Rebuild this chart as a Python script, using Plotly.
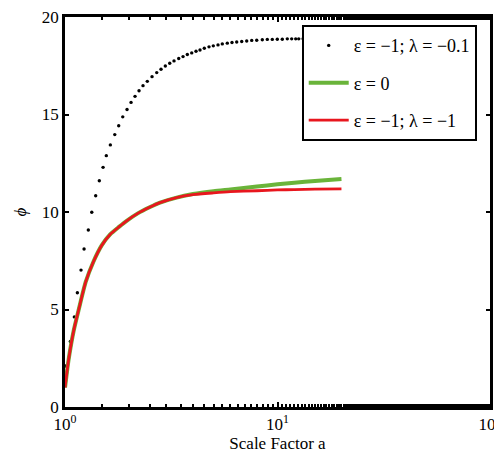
import plotly.graph_objects as go

# Dotted series: epsilon = -1, lambda = -0.1
a_dots = [1.01, 1.059, 1.106, 1.143, 1.189, 1.229, 1.287, 1.336, 1.394, 1.450,
          1.510, 1.564, 1.634, 1.714, 1.789, 1.869, 1.958, 2.045, 2.135, 2.230,
          2.328, 2.439, 2.567, 2.701, 2.830, 2.965, 3.110, 3.258, 3.428, 3.592,
          3.763, 3.947, 4.135, 4.318, 4.524, 4.760, 4.987, 5.248, 5.498, 5.804,
          6.107, 6.427, 6.785, 7.163, 7.562, 7.984, 8.482, 8.954, 9.453, 9.978,
          10.534, 11.120, 11.663, 12.180, 12.589, 13.2, 14.0, 15.0, 16.0, 17.0,
          18.0, 19.0, 20.0]
phi_dots = [2.10, 3.36, 4.62, 5.86, 7.02, 8.10, 9.08, 9.99, 10.83, 11.60,
            12.29, 12.89, 13.44, 13.97, 14.42, 14.88, 15.26, 15.62, 15.93, 16.22,
            16.48, 16.70, 16.94, 17.15, 17.32, 17.49, 17.63, 17.75, 17.87, 17.97,
            18.08, 18.16, 18.24, 18.31, 18.40, 18.47, 18.52, 18.57, 18.62, 18.66,
            18.69, 18.72, 18.74, 18.77, 18.80, 18.81, 18.83, 18.85, 18.85, 18.86,
            18.86, 18.88, 18.88, 18.88, 18.88, 18.89, 18.89, 18.90, 18.90, 18.90,
            18.90, 18.90, 18.90]

# Line series
a_lines = [1.0, 1.04, 1.1, 1.16, 1.25, 1.36, 1.49, 1.63, 1.8, 1.95, 2.2, 2.5,
           2.8, 3.35, 4.0, 5.0, 6.0, 8.0, 10.0, 12.0, 15.0, 20.0]
phi_eps0 = [1.0, 2.45, 3.95, 5.0, 6.4, 7.45, 8.3, 8.85, 9.25, 9.55, 9.93, 10.24,
            10.48, 10.74, 10.92, 11.07, 11.16, 11.31, 11.42, 11.50, 11.59, 11.69]
phi_eps1 = [1.0, 2.45, 3.95, 5.0, 6.4, 7.45, 8.3, 8.85, 9.25, 9.55, 9.93, 10.24,
            10.48, 10.74, 10.89, 10.98, 11.04, 11.09, 11.13, 11.15, 11.17, 11.19]

names = ["ε = −1; λ = −0.1", "ε = 0", "ε = −1; λ = −1"]
x_tickvals = [1, 10, 100]
x_ticktext = ["10<sup>0</sup>", "10<sup>1</sup>", "10<sup>2</sup>"]
y_tickvals = [0, 5, 10, 15, 20]

FONT = "Liberation Serif"

fig = go.Figure()
fig.add_trace(go.Scatter(x=a_dots, y=phi_dots, mode="markers", name=names[0],
                         marker=dict(color="black", size=3.4), legendgroup="g1"))
fig.add_trace(go.Scatter(x=a_lines, y=phi_eps0, mode="lines", name=names[1],
                         line=dict(color="#6ab43a", width=4, shape="spline", smoothing=0.6),
                         legendgroup="g2"))
fig.add_trace(go.Scatter(x=a_lines, y=phi_eps1, mode="lines", name=names[2],
                         line=dict(color="#e8161e", width=2.8, shape="spline", smoothing=0.6),
                         legendgroup="g3"))

axis_common = dict(showline=True, linecolor="black", linewidth=2.5, mirror="ticks",
                   ticks="inside", tickcolor="black", tickwidth=2, showgrid=False,
                   zeroline=False, tickfont=dict(family=FONT, size=17, color="black"))

fig.update_layout(
    width=494, height=460,
    margin=dict(l=65, r=4, t=17, b=53),
    paper_bgcolor="white", plot_bgcolor="white",
    font=dict(family=FONT, color="black"),
    showlegend=True,
    legend=dict(x=0.557, y=0.979, xanchor="left", yanchor="top",
                bordercolor="black", borderwidth=2, bgcolor="white",
                font=dict(family=FONT, size=18, color="black"),
                tracegroupgap=11, itemwidth=40),
    xaxis=dict(type="log", range=[-0.0002, 2.0002], tickvals=x_tickvals,
               ticktext=x_ticktext, ticklen=5, ticklabeloverflow="allow",
               minor=dict(ticks="inside", ticklen=3, tickcolor="black", tickwidth=1.5,
                          showgrid=False),
               title=dict(text="Scale Factor a", font=dict(family=FONT, size=17),
                          standoff=4),
               automargin=False, **axis_common),
    yaxis=dict(range=[0, 20], tickvals=y_tickvals, ticklen=4,
               title=dict(text="<i>ϕ</i>", font=dict(family=FONT, size=17), standoff=11),
               automargin=False, **axis_common),
)

fig.write_html("out.html", config={"displayModeBar": False},
               post_script="document.body.style.margin='0px';")
